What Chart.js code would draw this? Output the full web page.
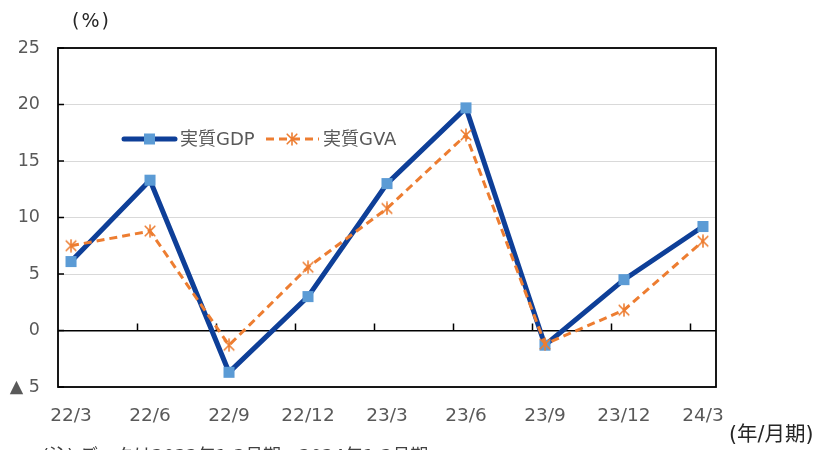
<!DOCTYPE html>
<html>
<head>
<meta charset="utf-8">
<script src="https://cdn.jsdelivr.net/npm/chart.js@4.4.1/dist/chart.umd.min.js"></script>
<style>
html,body{margin:0;padding:0;background:#fff;}
#wrap{position:relative;width:821px;height:450px;overflow:hidden;}
.note{position:absolute;font-family:"DejaVu Sans","Noto Sans CJK JP",sans-serif;font-size:19px;color:#262626;white-space:nowrap;line-height:20px;}
</style>
</head>
<body>
<div id="wrap">
  <canvas id="c" width="821" height="450"></canvas>
  <div class="note" style="left:72px;top:10px;letter-spacing:2px;">(%)</div>
  <div class="note" style="left:729px;top:424px;font-size:20.5px;">(年/月期)</div>
  <div class="note" style="left:42px;top:445.5px;font-size:18px;color:#404040;">(注)  データは2022年1-3月期～2024年1-3月期</div>
</div>
<script>
/* ── DATA ── */
const periods = ['22/3','22/6','22/9','22/12','23/3','23/6','23/9','23/12','24/3'];
const gdp     = [6.1, 13.3, -3.7, 3.0, 13.0, 19.7, -1.3, 4.5, 9.2];
const gva     = [7.5, 8.8, -1.3, 5.6, 10.8, 17.3, -1.2, 1.8, 7.9];
const names   = ['実質GDP','実質GVA'];
const yMin = -5, yMax = 25, yStep = 5;

const BLUE = '#0E3F98', LBLUE = '#5B9BD5', ORANGE = '#ED7D31';
const FONT = '"DejaVu Sans","Noto Sans CJK JP",sans-serif';

// Excel-style star marker: X with a vertical stroke
function starMarker(size, color, lw) {
  const c = document.createElement('canvas');
  c.width = c.height = size;
  const g = c.getContext('2d'), h = size/2, r = h - 1;
  g.strokeStyle = color; g.lineWidth = lw; g.lineCap = 'round';
  g.beginPath();
  g.moveTo(h-r*0.8,h-r*0.8); g.lineTo(h+r*0.8,h+r*0.8);
  g.moveTo(h+r*0.8,h-r*0.8); g.lineTo(h-r*0.8,h+r*0.8);
  g.moveTo(h,h-r); g.lineTo(h,h+r);
  g.stroke();
  return c;
}
const star = starMarker(14, ORANGE, 1.6);

/* ── FRAME + AXIS TICKS ── */
const framePlugin = {
  id:'frame',
  beforeDatasetsDraw(chart) {
    const {ctx, chartArea:a, scales:{x,y}} = chart;
    ctx.save();
    ctx.strokeStyle = '#000';
    ctx.lineWidth = 1.5;
    // tick marks on the zero line, between categories
    const y0 = y.getPixelForValue(0);
    ctx.beginPath();
    for (let i=1;i<periods.length;i++) {
      const px = Math.round(x.getPixelForValue(i-0.165))+0.5;
      ctx.moveTo(px,y0); ctx.lineTo(px,y0-7);
    }
    // inner ticks on value axis
    for (let v=yMin; v<=yMax; v+=yStep) {
      const py = y.getPixelForValue(v);
      ctx.moveTo(a.left,py); ctx.lineTo(a.left+6,py);
    }
    ctx.stroke();
    ctx.lineWidth = 1.8;
    ctx.strokeRect(a.left, a.top, a.right-a.left, a.bottom-a.top);
    ctx.restore();
  }
};

/* ── LEGEND inside plot ── */
const legendPlugin = {
  id:'inlegend',
  afterDraw(chart) {
    const {ctx} = chart;
    const ly = 139;
    ctx.save();
    ctx.font = '18px '+FONT;
    ctx.textBaseline = 'middle';
    // GDP
    ctx.strokeStyle = BLUE; ctx.lineWidth = 5; ctx.lineCap='round';
    ctx.beginPath(); ctx.moveTo(124,ly); ctx.lineTo(175,ly); ctx.stroke();
    ctx.fillStyle = LBLUE; ctx.fillRect(144,ly-5.5,11,11);
    ctx.fillStyle = '#595959';
    ctx.fillText(names[0],180,ly+1);
    // GVA
    ctx.strokeStyle = ORANGE; ctx.lineWidth = 3; ctx.lineCap='butt';
    ctx.setLineDash([8,5]);
    ctx.beginPath(); ctx.moveTo(266,ly); ctx.lineTo(319,ly); ctx.stroke();
    ctx.setLineDash([]);
    ctx.drawImage(star,292-7,ly-7);
    ctx.fillText(names[1],323,ly+1);
    ctx.restore();
  }
};

new Chart(document.getElementById('c'), {
  type:'line',
  data:{
    datasets:[
      { label:names[0], data:gdp.map((v,i)=>({x:i,y:v})),
        borderColor:BLUE, borderWidth:5, pointStyle:'rect', pointRadius:7.8,
        pointBackgroundColor:LBLUE, pointBorderColor:LBLUE, pointBorderWidth:0,
        tension:0, order:2 },
      { label:names[1], data:gva.map((v,i)=>({x:i,y:v})),
        borderColor:ORANGE, borderWidth:3, borderDash:[8,5], pointStyle:star,
        pointRadius:7, tension:0, order:1 }
    ]
  },
  options:{
    responsive:false, animation:false,
    layout:{padding:{left:0,top:48,right:105,bottom:0}},
    plugins:{legend:{display:false}, tooltip:{enabled:false}},
    scales:{
      x:{ type:'linear', min:-0.165, max:8.165,
          grid:{display:false, drawTicks:false}, border:{display:false},
          ticks:{ stepSize:1, includeBounds:false, autoSkip:false, maxRotation:0, padding:18,
                  color:'#595959', font:{family:FONT,size:18.5},
                  callback:v=>periods[v]!==undefined?periods[v]:'' },
          afterFit:s=>{s.height=63;} },
      y:{ min:yMin, max:yMax,
          grid:{drawTicks:false,
                color:c=>c.tick.value===0?'#000':'#D9D9D9',
                lineWidth:c=>c.tick.value===0?1.5:1},
          border:{display:false},
          ticks:{ stepSize:yStep, padding:18, color:'#595959', font:{family:FONT,size:17.5},
                  callback:v=>v<0?'▲ '+Math.abs(v):v },
          afterFit:s=>{s.width=58;} }
    }
  },
  plugins:[framePlugin, legendPlugin]
});
</script>
</body>
</html>
